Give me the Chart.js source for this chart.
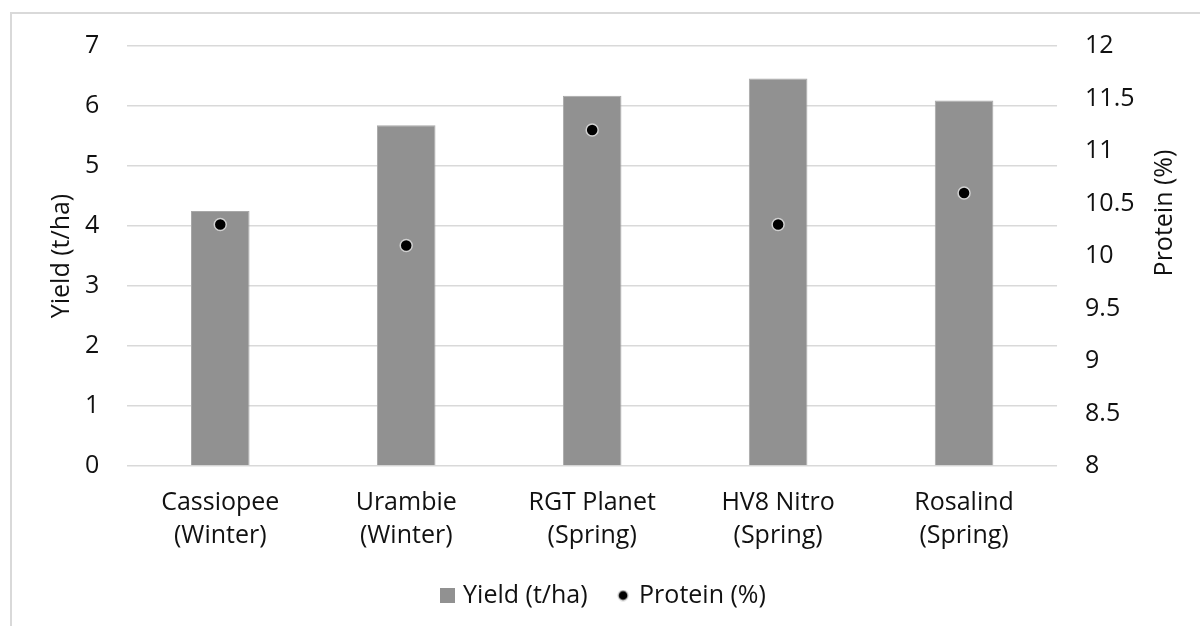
<!DOCTYPE html>
<html>
<head>
<meta charset="utf-8">
<script src="https://cdn.jsdelivr.net/npm/chart.js@4/dist/chart.umd.min.js"></script>
<style>
html,body{margin:0;padding:0;background:#fff;overflow:hidden;}
#frame{position:absolute;left:10px;top:12px;width:1300px;height:800px;border:2px solid #d9d9d9;box-sizing:border-box;}
#wrap{position:absolute;left:0;top:0;width:1200px;height:626px;}
</style>
</head>
<body>
<div id="frame"></div>
<div id="wrap"><canvas id="c" width="1200" height="626"></canvas></div>
<script>
const categories = [["Cassiopee","(Winter)"],["Urambie","(Winter)"],["RGT Planet","(Spring)"],["HV8 Nitro","(Spring)"],["Rosalind","(Spring)"]];
const yieldValues = [4.25, 5.68, 6.17, 6.46, 6.09];
const proteinValues = [10.3, 10.1, 11.2, 10.3, 10.6];
const yieldTicks = [0,1,2,3,4,5,6,7];
const proteinTicks = [8,8.5,9,9.5,10,10.5,11,11.5,12];
const seriesNames = ['Yield (t/ha)', 'Protein (%)'];

const FONT = "'Open Sans', 'Liberation Sans', sans-serif";
const FS = 25;
const TXT = '#111';
const BAR = '#919191';
Chart.defaults.font.family = FONT;
Chart.defaults.color = TXT;

function makeIcon(kind) {
  const cv = document.createElement('canvas');
  if (kind === 'rect') {
    cv.width = 15; cv.height = 15;
    const g = cv.getContext('2d');
    g.fillStyle = BAR; g.fillRect(0, 0, 15, 15);
  } else {
    cv.width = 12; cv.height = 12;
    const g = cv.getContext('2d');
    g.beginPath(); g.arc(6, 6, 5, 0, Math.PI * 2);
    g.fillStyle = '#000'; g.fill();
    g.lineWidth = 1.2; g.strokeStyle = '#d0d0d0'; g.stroke();
  }
  return cv;
}
const rectIcon = makeIcon('rect');
const dotIcon = makeIcon('dot');

const rightTitle = {
  id: 'rightTitle',
  afterDraw(chart) {
    const s = chart.scales.y1;
    const ctx = chart.ctx;
    ctx.save();
    ctx.font = FS + "px " + FONT;
    ctx.fillStyle = TXT;
    ctx.textAlign = 'center';
    ctx.textBaseline = 'middle';
    const cx = s.left + 108;
    const cy = (s.top + s.bottom) / 2 - 43;
    ctx.translate(cx, cy);
    ctx.rotate(-Math.PI / 2);
    ctx.fillText(seriesNames[1], 0, 0);
    ctx.restore();
  }
};

new Chart(document.getElementById('c'), {
  type: 'bar',
  data: {
    labels: categories,
    datasets: [
      {
        type: 'scatter',
        label: seriesNames[1],
        data: proteinValues,
        yAxisID: 'y1',
        backgroundColor: '#000',
        borderColor: '#d0d0d0',
        borderWidth: 1.5,
        pointRadius: 6,
        pointHoverRadius: 6,
        showLine: false
      },
      {
        type: 'bar',
        label: seriesNames[0],
        data: yieldValues,
        yAxisID: 'y',
        backgroundColor: BAR,
        borderColor: '#a8a8a8',
        borderWidth: 1,
        barPercentage: 1,
        categoryPercentage: 0.315
      }
    ]
  },
  plugins: [rightTitle],
  options: {
    responsive: false,
    animation: false,
    devicePixelRatio: 1,
    layout: { padding: { left: 47, right: 37.5, top: 46, bottom: 8 } },
    plugins: {
      tooltip: { enabled: false },
      legend: {
        position: 'bottom',
        labels: {
          usePointStyle: true,
          font: { size: FS },
          color: TXT,
          boxWidth: 7,
          boxHeight: 15,
          padding: 19,
          generateLabels: () => [
            { text: seriesNames[0] + '  ', pointStyle: rectIcon, fillStyle: BAR, strokeStyle: BAR, lineWidth: 0, hidden: false, datasetIndex: 1, fontColor: TXT },
            { text: seriesNames[1], pointStyle: dotIcon, fillStyle: '#000', strokeStyle: '#000', lineWidth: 0, hidden: false, datasetIndex: 0, fontColor: TXT }
          ]
        }
      }
    },
    scales: {
      x: {
        type: 'category',
        offset: true,
        grid: { display: false },
        border: { display: false },
        ticks: { font: { size: FS, lineHeight: 1.32 }, color: TXT, maxRotation: 0, padding: 12 }
      },
      y: {
        position: 'left',
        min: 0, max: 7,
        afterBuildTicks: (s) => { s.ticks = yieldTicks.map(v => ({ value: v })); },
        grid: { color: '#d9d9d9', lineWidth: 1.5, drawTicks: false },
        border: { display: false },
        ticks: { font: { size: FS }, color: TXT, padding: 28 },
        title: { display: true, text: seriesNames[0], font: { size: FS }, color: TXT, padding: { top: 0, bottom: -20 } }
      },
      y1: {
        position: 'right',
        min: 8, max: 12,
        afterBuildTicks: (s) => { s.ticks = proteinTicks.map(v => ({ value: v })); },
        grid: { display: true, drawOnChartArea: false, drawTicks: false, color: 'rgba(0,0,0,0)' },
        border: { display: false },
        ticks: { font: { size: FS }, color: TXT, padding: 28, callback: (v) => String(v) }
      }
    }
  }
});
</script>
</body>
</html>
